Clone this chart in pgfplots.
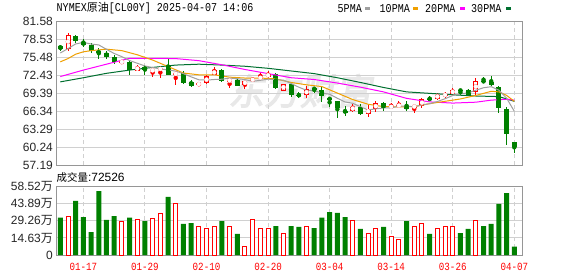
\documentclass[border=0pt]{standalone}
\usepackage{pgfplots}
\pgfplotsset{compat=1.18}
\usepackage{pgfplotstable}
\usepackage{fontspec}
\setmainfont{Liberation Sans}
\newfontfamily\cjk{Noto Sans CJK SC}
\newfontfamily\cjkwm[FakeSlant=0.18,FakeBold=3]{Noto Sans CJK SC}
\newfontfamily\mono[FakeStretch=0.84]{Liberation Mono}
\definecolor{cgreen}{RGB}{0,128,0}
\definecolor{cred}{RGB}{255,0,0}
\definecolor{maA}{RGB}{160,160,160}
\definecolor{maB}{RGB}{240,160,0}
\definecolor{maC}{RGB}{255,0,255}
\definecolor{maD}{RGB}{0,112,48}
\definecolor{gridc}{RGB}{208,208,208}
\definecolor{framec}{RGB}{150,150,150}

\pgfplotstableread{
i O H L C V
1 76.95 79.66 76.50 79.32 33.4
8 74.57 74.97 74.35 74.80 29.1
10 73.22 74.12 73.11 73.90 30.0
12 73.11 73.56 72.20 73.39 31.7
13 73.45 73.78 72.00 73.56 35.7
15 72.54 73.11 70.85 72.82 43.7
18 70.73 71.24 70.56 71.13 24.0
19 71.13 72.54 71.02 72.26 22.3
20 72.54 73.84 72.43 73.28 24.0
22 71.41 71.64 70.28 71.64 24.0
24 70.85 71.52 70.11 71.41 7.7
25 71.47 72.09 71.30 71.86 30.8
26 71.81 72.94 71.69 72.20 23.1
27 72.20 73.11 71.98 72.65 22.3
29 69.83 70.96 69.83 70.96 18.8
32 69.04 70.68 68.59 70.06 24.6
38 66.44 67.57 66.27 67.12 29.7
40 65.87 67.34 65.31 66.78 18.6
41 66.67 68.02 66.21 67.68 22.3
43 66.98 67.74 66.78 67.17 16.0
44 67.23 68.02 66.89 67.34 13.4
46 67.00 67.34 66.10 67.23 24.6
47 67.17 68.59 66.78 68.36 27.1
49 68.47 69.43 68.25 69.15 23.1
50 69.00 69.60 68.59 69.15 24.6
51 69.26 70.28 69.04 69.94 24.6
54 69.60 71.98 69.04 71.41 29.7
}\up

\pgfplotstableread{
i O H L C V
0 77.40 77.63 76.50 76.95 32.0
2 79.04 79.32 77.91 78.19 46.3
3 78.08 78.64 77.29 77.51 32.5
4 77.51 77.85 76.27 76.61 19.7
5 76.50 77.06 75.25 76.20 54.8
6 76.16 76.61 75.25 75.59 30.0
7 75.48 75.82 74.35 74.69 33.4
9 74.69 75.03 72.54 73.33 32.0
11 73.90 74.24 72.54 73.28 29.1
14 74.12 75.37 72.43 72.54 49.7
16 72.82 73.11 70.96 71.13 26.6
17 71.30 71.70 70.40 70.68 27.4
21 73.33 73.56 71.30 71.41 29.1
23 71.69 72.09 70.56 70.68 18.0
28 72.65 72.82 70.17 70.28 24.8
30 70.96 71.13 68.70 69.04 24.8
31 69.10 69.60 68.50 68.98 24.0
33 70.28 70.45 69.43 69.99 23.1
34 69.99 70.56 67.91 68.87 32.0
35 68.50 68.65 67.00 68.35 36.8
36 68.13 68.13 65.20 66.78 36.0
37 66.34 67.20 65.48 66.16 32.5
39 67.00 67.57 65.76 65.87 22.3
42 67.68 67.91 66.44 66.89 24.0
45 67.17 68.02 66.44 66.78 29.1
48 68.47 68.87 68.02 68.30 18.0
52 69.94 69.94 69.15 69.77 18.8
53 69.94 70.17 69.04 69.15 22.3
55 71.52 72.09 71.24 71.24 24.8
56 71.30 72.26 70.56 70.85 26.6
57 70.40 70.56 66.10 66.78 43.7
58 66.78 67.00 60.51 62.37 53.1
59 61.13 61.13 59.26 60.28 7.25
}\dn

\pgfplotsset{
  panel/.style={
    scale only axis, width=466bp, xmin=-0.56, xmax=60,
    axis line style={framec, line width=1bp},
    tick style={draw=none},
    xmajorgrids, ymajorgrids,
    x grid style={gridc, line width=1bp, dash pattern=on 4bp off 3bp},
    y grid style={gridc, line width=1bp},
    xtick={3,11,19,27,35,43,51,59},
    yticklabel style={font=\fontsize{12}{12}\selectfont, inner sep=0pt, xshift=-3bp, text=black!85},
  },
  wick/.style={color=#1, only marks, mark=none, forget plot,
    error bars/.cd, y dir=both, y explicit, error mark=none,
    error bar style={color=#1, line width=1bp}},
  body/.style={color=#1, only marks, mark=none, forget plot,
    error bars/.cd, y dir=both, y explicit, error mark=none,
    error bar style={color=#1, line width=5bp}},
  inner/.style={color=white, only marks, mark=none, forget plot,
    error bars/.cd, y dir=both, y explicit, error mark=none,
    error bar style={color=white, line width=3bp}},
}

\begin{document}
\begin{tikzpicture}[x=1bp,y=1bp]
\useasboundingbox (0,0) rectangle (578,276);
\fill[white] (0,0) rectangle (578,276);
\node[text=black!9, font=\cjkwm\fontsize{36}{36}\selectfont] at (300,185) {东方财富};

% title
\node[anchor=west, inner sep=0pt, font=\mono\fontsize{12}{12}\selectfont] at (56.5,267.5)
  {NYMEX{\cjk\fontsize{11}{11}\selectfont 原油}[CL00Y] 2025-04-07 14:06};
% legend
\node[anchor=west, inner sep=0pt, font=\mono\fontsize{12}{12}\selectfont] at (337.5,267.5) {5PMA};
\fill[maA] (365,265.5) rectangle (370,269);
\node[anchor=west, inner sep=0pt, font=\mono\fontsize{12}{12}\selectfont] at (379.5,267.5) {10PMA};
\fill[maB] (413,265.5) rectangle (418,269);
\node[anchor=west, inner sep=0pt, font=\mono\fontsize{12}{12}\selectfont] at (425,267.5) {20PMA};
\fill[maC] (460,265.5) rectangle (465,269);
\node[anchor=west, inner sep=0pt, font=\mono\fontsize{12}{12}\selectfont] at (471,267.5) {30PMA};
\fill[maD] (506,265.5) rectangle (511,269);

% price panel
\begin{axis}[panel, at={(56bp,111bp)}, anchor=south west, height=143.7bp,
  ymin=57.19, ymax=81.58,
  ytick={57.19,60.24,63.29,66.34,69.39,72.43,75.48,78.53,81.58},
  yticklabels={57.19,60.24,63.29,66.34,69.39,72.43,75.48,78.53,81.58},
  xticklabels={}]
\addplot[wick=cgreen] table[x=i, y expr={(\thisrow{H}+\thisrow{L})/2}, y error expr={(\thisrow{H}-\thisrow{L})/2}] {\dn};
\addplot[wick=cred] table[x=i, y expr={(\thisrow{H}+\thisrow{L})/2}, y error expr={(\thisrow{H}-\thisrow{L})/2}] {\up};
\addplot[body=cgreen] table[x=i, y expr={(\thisrow{O}+\thisrow{C})/2}, y error expr={max((\thisrow{O}-\thisrow{C})/2,0.09)}] {\dn};
\addplot[body=cred] table[x=i, y expr={(\thisrow{O}+\thisrow{C})/2}, y error expr={max((\thisrow{C}-\thisrow{O})/2,0.09)}] {\up};
\addplot[inner] table[x=i, y expr={(\thisrow{O}+\thisrow{C})/2}, y error expr={max((\thisrow{C}-\thisrow{O})/2-0.17,0)}] {\up};
% MA lines
\addplot[maD, line width=1bp, mark=none] coordinates {(0,71.3)(3,72.0)(6,72.75)(9,73.3)(12,73.75)(15,74.15)(18,74.3)(21,74.15)(24,73.95)(27,73.6)(30,73.15)(33,72.7)(36,72.0)(39,71.2)(42,70.35)(45,69.6)(48,69.35)(51,69.1)(54,68.9)(57,68.8)(59,68.0)};
\addplot[maC, line width=1bp, mark=none] coordinates {(0,72.2)(3,73.3)(6,74.3)(9,75.3)(12,75.3)(15,75.25)(18,74.9)(21,74.2)(24,73.4)(27,72.7)(30,72.0)(33,71.7)(36,71.1)(39,70.4)(42,69.6)(45,68.5)(48,67.9)(51,67.7)(54,67.85)(56,68.2)(58,68.35)(59,68.2)};
\addplot[maB, line width=1bp, mark=none] coordinates {(0,74.7)(1,75.25)(2,76.0)(3,76.4)(4,76.6)(6,76.85)(8,76.6)(10,75.9)(12,75.0)(14,73.9)(16,72.8)(18,72.5)(20,72.5)(22,72.1)(24,71.95)(26,71.95)(28,71.8)(30,71.2)(32,70.8)(34,70.5)(36,69.4)(38,68.3)(40,67.5)(42,67.1)(44,67.05)(46,67.1)(48,67.6)(50,68.0)(52,68.4)(54,69.0)(56,69.7)(57,69.6)(58,69.0)(59,68.0)};
\addplot[maA, line width=1bp, mark=none] coordinates {(0,76.2)(1,76.95)(2,77.74)(3,78.0)(4,77.72)(5,77.57)(6,76.82)(7,76.12)(8,75.58)(9,74.92)(10,74.46)(11,74.00)(12,73.74)(13,73.49)(14,73.33)(15,73.12)(16,72.69)(17,72.15)(18,71.66)(19,71.60)(20,71.70)(21,71.75)(22,71.94)(23,71.85)(24,71.68)(25,71.40)(26,71.56)(27,71.76)(28,71.68)(29,71.59)(30,71.03)(31,70.39)(32,69.87)(33,69.81)(34,69.39)(35,69.20)(36,68.52)(37,67.89)(38,67.67)(39,67.07)(40,66.54)(41,66.72)(42,66.87)(43,66.88)(44,67.17)(45,67.17)(46,67.08)(47,67.38)(48,67.60)(49,67.96)(50,68.44)(51,68.98)(52,69.26)(53,69.43)(54,69.88)(55,70.30)(56,70.48)(57,69.89)(58,68.53)(59,66.30)};
\end{axis}

\node[anchor=west, inner sep=0pt] at (56.5,98.5) {{\cjk\fontsize{10.5}{10.5}\selectfont 成交量}\fontsize{12}{12}\selectfont:72526};

% volume panel
\begin{axis}[panel, at={(56bp,21bp)}, anchor=south west, height=68.3bp,
  ymin=0, ymax=58.52,
  ytick={0,14.63,29.26,43.89,58.52},
  yticklabels={0,14.63{\cjk 万},29.26{\cjk 万},43.89{\cjk 万},58.52{\cjk 万}},
  xticklabels={01-17,01-29,02-10,02-20,03-04,03-14,03-26,04-07},
  xticklabel style={font=\mono\fontsize{11}{11}\selectfont, text=cred},
  ybar]
\addplot[ybar, bar width=5bp, bar shift=0pt, fill=cgreen, draw=none] table[x=i, y=V] {\dn};
\addplot[ybar, bar width=4bp, bar shift=0pt, fill=white, draw=cred, line width=1bp] table[x=i, y=V] {\up};
\end{axis}
\end{tikzpicture}
\end{document}
